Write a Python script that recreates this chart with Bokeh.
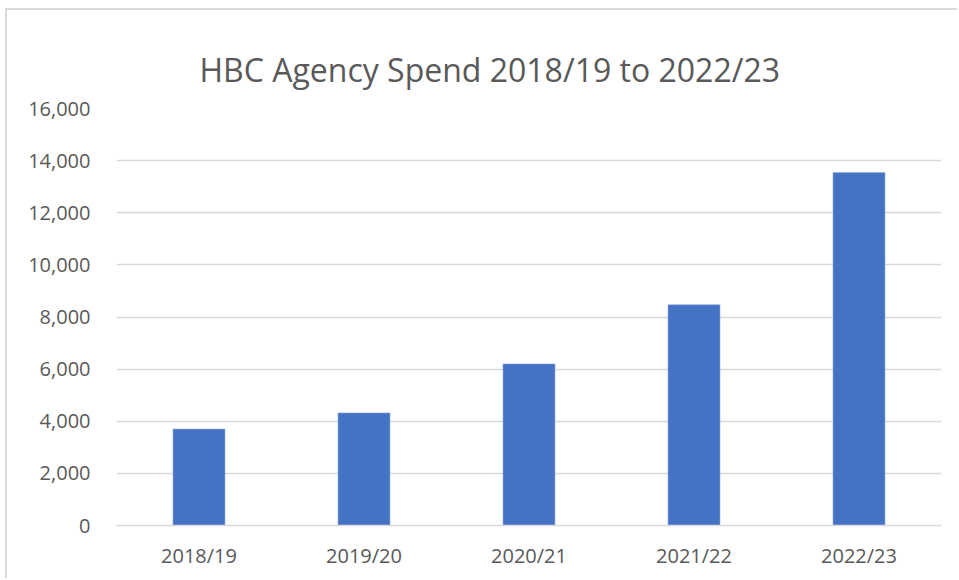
from bokeh.plotting import figure
from bokeh.models import ColumnDataSource, NumeralTickFormatter, FixedTicker, Range1d
from bokeh.embed import file_html
from bokeh.resources import INLINE

years = ["2018/19", "2019/20", "2020/21", "2021/22", "2022/23"]
spend = [3700, 4320, 6200, 8470, 13540]
y_ticks = [0, 2000, 4000, 6000, 8000, 10000, 12000, 14000, 16000]

src = ColumnDataSource(dict(years=years, spend=spend))

p = figure(
    x_range=years, y_range=Range1d(0, 16000),
    width=952, height=570,
    output_backend="svg", toolbar_location=None,
    min_border_left=109, min_border_right=18, min_border_bottom=55, min_border_top=98,
    styles={"margin-left": "5px", "margin-top": "8px",
            "border-left": "2px solid #d9d9d9", "border-top": "2px solid #d9d9d9"},
)
p.vbar(x="years", top="spend", width=0.315, source=src,
       fill_color="#4472C4", line_color="#8faadc", line_width=0.6)

p.title.text = "HBC Agency Spend 2018/19 to 2022/23"
p.title.align = "left"
p.title.offset = 83
p.title.vertical_align = "middle"
p.title.text_font = "Open Sans"
p.title.text_font_size = "32px"
p.title.text_font_style = "normal"
p.title.text_color = "#595959"
p.title.standoff = 34

p.outline_line_color = None
p.xgrid.grid_line_color = None
p.ygrid.grid_line_color = "#d9d9d9"
p.ygrid.grid_line_width = 1.5

p.yaxis.ticker = FixedTicker(ticks=y_ticks)
p.yaxis.formatter = NumeralTickFormatter(format="0,0")
p.yaxis.axis_line_color = None
p.yaxis.major_tick_line_color = None
p.yaxis.minor_tick_line_color = None
p.yaxis.major_label_standoff = 20
p.yaxis.major_label_text_font = "Open Sans"
p.yaxis.major_label_text_font_size = "20px"
p.yaxis.major_label_text_color = "#595959"

p.xaxis.axis_line_color = "#d9d9d9"
p.xaxis.axis_line_width = 1.5
p.xaxis.major_tick_line_color = None
p.xaxis.minor_tick_line_color = None
p.xaxis.major_label_standoff = 10
p.xaxis.major_label_text_font = "Open Sans"
p.xaxis.major_label_text_font_size = "20px"
p.xaxis.major_label_text_color = "#595959"

open("out.html", "w").write(file_html(p, INLINE))
